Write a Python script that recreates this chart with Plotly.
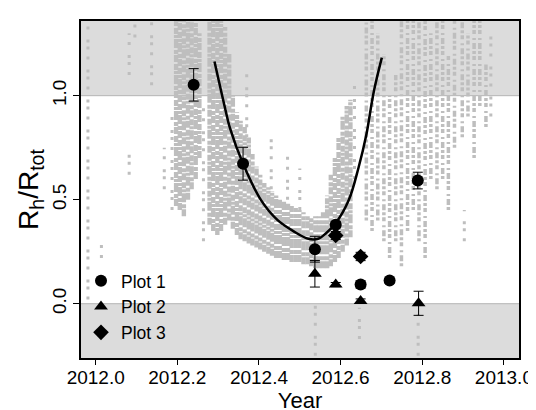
import plotly.graph_objects as go

# ---------------- data ----------------
plot1_x = [2012.240, 2012.361, 2012.537, 2012.588, 2012.649, 2012.720, 2012.789]
plot1_y = [1.052, 0.673, 0.262, 0.380, 0.092, 0.111, 0.592]
plot1_err = [0.078, 0.079, 0.062, 0.015, 0.017, 0.012, 0.040]

plot2_x = [2012.537, 2012.588, 2012.649, 2012.791]
plot2_y = [0.144, 0.092, 0.013, 0.002]
plot2_err = [0.064, 0.010, 0.010, 0.058]

plot3_x = [2012.588, 2012.649]
plot3_y = [0.328, 0.227]
plot3_err = [0.019, 0.020]

fit_x = [2012.291, 2012.317, 2012.329, 2012.361, 2012.405, 2012.445, 2012.485,
         2012.521, 2012.545, 2012.565, 2012.588, 2012.620, 2012.644, 2012.663,
         2012.681, 2012.701]
fit_y = [1.164, 0.939, 0.844, 0.673, 0.498, 0.403, 0.348,
         0.312, 0.312, 0.340, 0.387, 0.498, 0.655, 0.812,
         1.017, 1.183]

# gray background observations, summarised as vertical streaks (x, low, high)
dense_x = [2012.197, 2012.206, 2012.216, 2012.226, 2012.235, 2012.245, 2012.254,
           2012.279, 2012.288, 2012.298, 2012.307, 2012.317, 2012.327, 2012.336,
           2012.346, 2012.355, 2012.365, 2012.375, 2012.384, 2012.394, 2012.403,
           2012.413, 2012.423, 2012.432, 2012.442, 2012.451, 2012.461, 2012.471,
           2012.480, 2012.490, 2012.499, 2012.509, 2012.519, 2012.528, 2012.538,
           2012.547, 2012.557, 2012.567, 2012.576, 2012.586, 2012.595, 2012.605,
           2012.615, 2012.624]
dense_lo = [0.47, 0.45, 0.42, 0.50, 0.55, 0.60, 0.70,
            0.38, 0.35, 0.33, 0.35, 0.38, 0.40, 0.36,
            0.33, 0.31, 0.30, 0.29, 0.28, 0.27, 0.26,
            0.25, 0.24, 0.23, 0.22, 0.22, 0.21, 0.21,
            0.20, 0.20, 0.20, 0.19, 0.19, 0.18, 0.17,
            0.17, 0.17, 0.17, 0.18, 0.20, 0.22, 0.25,
            0.28, 0.32]
dense_hi = [1.36, 1.36, 1.36, 1.36, 1.36, 1.36, 1.30,
            1.36, 1.36, 1.36, 1.36, 1.33, 1.20, 1.00,
            0.92, 0.88, 0.85, 0.80, 0.72, 0.66, 0.62,
            0.58, 0.56, 0.54, 0.52, 0.50, 0.49, 0.48,
            0.47, 0.46, 0.45, 0.44, 0.43, 0.42, 0.42,
            0.42, 0.44, 0.52, 0.62, 0.70, 0.80, 0.90,
            0.95, 0.98]

medium_x = [2012.663, 2012.677, 2012.691, 2012.706, 2012.720, 2012.735, 2012.749,
            2012.764, 2012.778, 2012.792, 2012.807, 2012.821, 2012.836, 2012.850,
            2012.864, 2012.879, 2012.898, 2012.912, 2012.927, 2012.941, 2012.956]
medium_lo = [0.40, 0.35, 0.40, 0.30, 0.22, 0.30, 0.18,
             0.35, 0.45, 0.30, 0.22, 0.60, 0.55, 0.60,
             0.45, 0.75, 0.80, 0.90, 0.70, 0.95, 0.85]
medium_hi = [1.36, 1.36, 1.30, 1.20, 1.00, 1.10, 1.36,
             1.36, 1.36, 1.36, 1.36, 1.30, 1.36, 1.36,
             1.20, 1.36, 1.36, 1.30, 1.36, 1.36, 1.15]

sparse_x = [2011.981, 2012.014, 2012.082, 2012.082, 2012.096, 2012.137, 2012.168,
            2012.187, 2012.264, 2012.370, 2012.430, 2012.470, 2012.500, 2012.634,
            2012.538, 2012.646, 2012.790, 2012.968, 2012.903]
sparse_lo = [0.02, 0.22, 1.10, 0.62, 1.28, 1.05, 0.55,
             0.45, 0.30, 0.80, 0.55, 0.50, 0.45, 0.60,
             -0.25, -0.17, -0.25, 0.90, 0.30]
sparse_hi = [1.36, 0.30, 1.30, 0.72, 1.36, 1.36, 0.75,
             0.90, 0.95, 1.12, 0.80, 0.72, 0.65, 1.05,
             0.00, -0.02, -0.05, 1.30, 0.45]

x_ticks = [2012.0, 2012.2, 2012.4, 2012.6, 2012.8, 2013.0]
y_ticks = [0.0, 0.5, 1.0]
y_ticktext = ["0.0", "0.5", "1.0"]

# ---------------- figure ----------------
GRAY = "#bebebe"
BAND = "#dcdcdc"
FONT = "Liberation Sans, Arial, sans-serif"


def segments(xs, lo, hi):
    X, Y = [], []
    for x, a, b in zip(xs, lo, hi):
        X += [x, x, None]
        Y += [a, b, None]
    return X, Y


fig = go.Figure()

sx, sy = segments(dense_x, dense_lo, dense_hi)
fig.add_trace(go.Scatter(x=sx, y=sy, mode="lines", showlegend=False,
                         line=dict(color=GRAY, width=4.4,
                                   dash="7px,1px,4px,2px,9px,1px,3px,1px,6px,2px"),
                         hoverinfo="skip"))
sx, sy = segments(medium_x, medium_lo, medium_hi)
fig.add_trace(go.Scatter(x=sx, y=sy, mode="lines", showlegend=False,
                         line=dict(color=GRAY, width=3.5,
                                   dash="3px,2px,6px,3px,2px,4px,4px,2px"),
                         hoverinfo="skip"))
sx, sy = segments(sparse_x, sparse_lo, sparse_hi)
fig.add_trace(go.Scatter(x=sx, y=sy, mode="lines", showlegend=False,
                         line=dict(color=GRAY, width=3, dash="3px,7px,3px,4px,3px,10px"),
                         hoverinfo="skip"))

fig.add_trace(go.Scatter(x=fit_x, y=fit_y, mode="lines", showlegend=False,
                         line=dict(color="black", width=2.5, shape="spline")))


def err(vals):
    return dict(type="data", array=vals, visible=True, color="black",
                thickness=1, width=5)


fig.add_trace(go.Scatter(x=plot1_x, y=plot1_y, mode="markers", name="Plot 1",
                         marker=dict(symbol="circle", size=12, color="black"),
                         error_y=err(plot1_err)))
fig.add_trace(go.Scatter(x=plot2_x, y=plot2_y, mode="markers", name="Plot 2",
                         marker=dict(symbol="triangle-up", size=12, color="black"),
                         error_y=err(plot2_err)))
fig.add_trace(go.Scatter(x=plot3_x, y=plot3_y, mode="markers", name="Plot 3",
                         marker=dict(symbol="diamond", size=12, color="black"),
                         error_y=err(plot3_err)))

fig.add_shape(type="rect", xref="paper", yref="y", x0=0, x1=1, y0=1.0, y1=1.359,
              fillcolor=BAND, line=dict(width=0), layer="below")
fig.add_shape(type="rect", xref="paper", yref="y", x0=0, x1=1, y0=-0.261, y1=0.0,
              fillcolor=BAND, line=dict(width=0), layer="below")
fig.add_shape(type="line", xref="paper", yref="y", x0=0, x1=1, y0=1.0, y1=1.0,
              line=dict(color="#b4b4b4", width=1), layer="below")
fig.add_shape(type="line", xref="paper", yref="y", x0=0, x1=1, y0=0.0, y1=0.0,
              line=dict(color="#b4b4b4", width=1), layer="below")

fig.update_layout(
    width=536, height=410,
    margin=dict(l=73, r=16, t=11, b=56),
    paper_bgcolor="white", plot_bgcolor="white",
    font=dict(family=FONT, color="black", size=19),
    legend=dict(x=0.0, y=0.282, xanchor="left", yanchor="top",
                bgcolor="rgba(0,0,0,0)", font=dict(size=17.5),
                itemwidth=30, tracegroupgap=0),
    xaxis=dict(range=[2011.964, 2013.037], tickvals=x_ticks,
               ticktext=[f"{v:.1f}" for v in x_ticks],
               showgrid=False, zeroline=False, showline=True, mirror=True,
               linecolor="black", linewidth=1.5, ticks="outside", ticklen=5,
               tickcolor="black", tickwidth=1, tickfont=dict(size=19),
               ticklabelstandoff=-4,
               title=dict(text="Year", font=dict(size=22), standoff=4)),
    yaxis=dict(range=[-0.261, 1.359], tickvals=y_ticks, ticktext=y_ticktext,
               showgrid=False, zeroline=False, showline=True, mirror=True,
               linecolor="black", linewidth=1.5, ticks="outside", ticklen=6,
               tickcolor="black", tickwidth=1, tickangle=-90, tickfont=dict(size=19),
               title=dict(text="R<sub>h</sub>/R<sub>tot</sub>", font=dict(size=28),
                          standoff=2)),
)

fig.write_html("out.html")
